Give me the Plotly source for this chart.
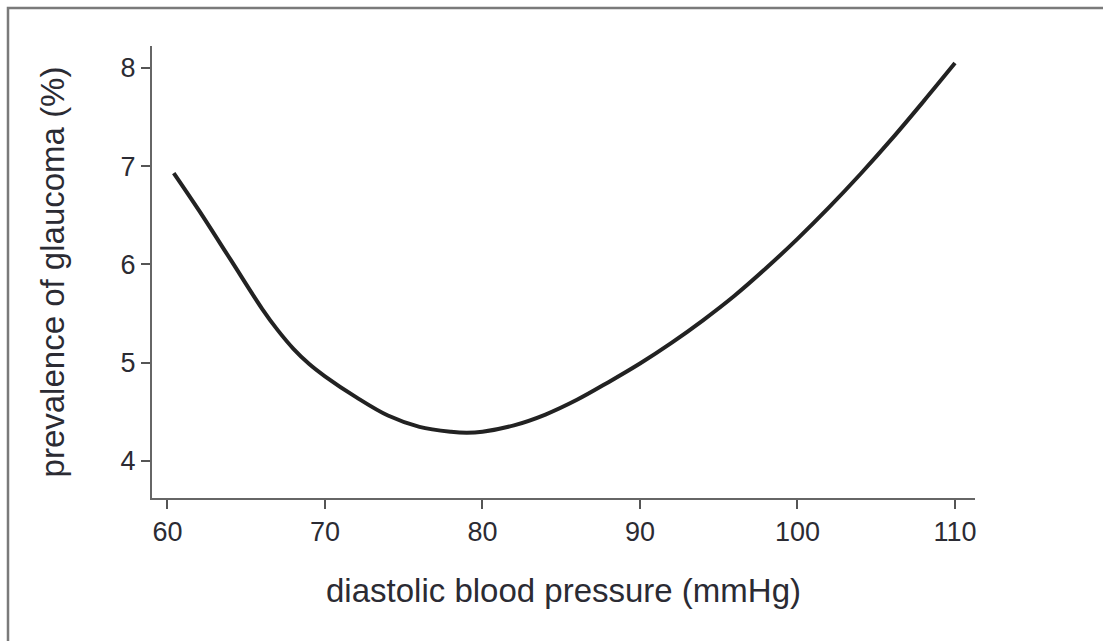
import plotly.graph_objects as go

# Data
dbp = [60.4, 62, 64, 66, 67, 68, 69, 70, 72, 74, 76, 78, 79, 80, 82, 84, 86, 88, 90,
       92, 94, 96, 98, 100, 102, 104, 106, 108, 110]
prevalence = [6.93, 6.55, 6.05, 5.55, 5.33, 5.14, 4.985, 4.86, 4.645, 4.46, 4.345, 4.295,
              4.285, 4.295, 4.36, 4.47, 4.62, 4.80, 4.99, 5.20, 5.43, 5.68, 5.96, 6.26,
              6.58, 6.92, 7.28, 7.66, 8.05]
x_ticks = [60, 70, 80, 90, 100, 110]
y_ticks = [4, 5, 6, 7, 8]
x_title = "diastolic blood pressure (mmHg)"
y_title = "prevalence of glaucoma (%)"

W, H = 1103, 641
L, R, T, B = 152, 975, 46, 498
pw, ph = R - L, B - T

fig = go.Figure()
fig.add_trace(go.Scatter(
    x=dbp, y=prevalence, mode="lines",
    line=dict(color="#222222", width=4, shape="spline", smoothing=1.0),
    showlegend=False, hoverinfo="skip",
))

font_fam = "Liberation Sans, Arial, Helvetica, sans-serif"
text_col = "#2b2b33"

fig.update_layout(
    width=W, height=H,
    margin=dict(l=L, r=W - R, t=T, b=H - B),
    paper_bgcolor="white", plot_bgcolor="white",
    font=dict(family=font_fam, color=text_col),
    xaxis=dict(
        range=[59.02, 111.27], tickvals=x_ticks, ticktext=[str(v) for v in x_ticks],
        showgrid=False, zeroline=False,
        showline=True, linecolor="#666666", linewidth=2,
        ticks="outside", ticklen=9, tickwidth=1.5, tickcolor="#555555",
        tickfont=dict(size=27, color=text_col, family=font_fam),
        title=dict(text=x_title, font=dict(size=33, color=text_col, family=font_fam), standoff=32),
    ),
    yaxis=dict(
        range=[3.62, 8.224], tickvals=y_ticks, ticktext=[str(v) for v in y_ticks],
        showgrid=False, zeroline=False,
        showline=True, linecolor="#666666", linewidth=2,
        ticks="outside", ticklen=9, tickwidth=1.5, tickcolor="#555555",
        tickfont=dict(size=27, color=text_col, family=font_fam),
        title=dict(text=y_title, font=dict(size=33, color=text_col, family=font_fam), standoff=46),
    ),
    shapes=[dict(
        type="rect", xref="paper", yref="paper",
        x0=(8 - L) / pw, x1=(W + 20 - L) / pw,
        y0=(B - (H + 20)) / ph, y1=(B - 8) / ph,
        line=dict(color="#7a7a7a", width=2.5), fillcolor="rgba(0,0,0,0)", layer="below",
    )],
)

fig.write_html("out.html")
